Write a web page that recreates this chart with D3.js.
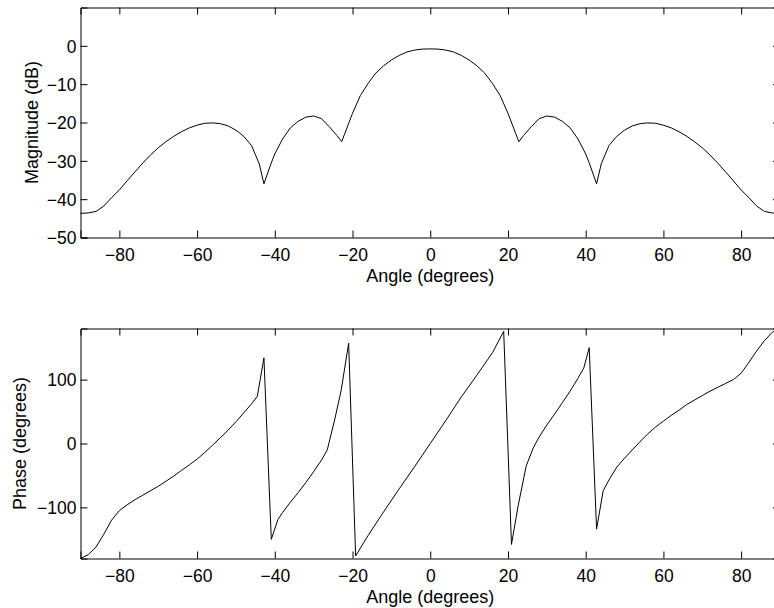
<!DOCTYPE html>
<html>
<head>
<meta charset="utf-8">
<script src="https://cdn.jsdelivr.net/npm/d3@7"></script>
<style>
  html, body { margin: 0; padding: 0; background: #fff; }
  svg { display: block; }
  text { font-family: "Liberation Sans", Arial, Helvetica, sans-serif; fill: #000; }
</style>
</head>
<body>
<svg id="chart" width="774" height="608"></svg>
<script>
// ---- Data ----
const magAngle = [-90,-88,-86,-84,-82,-80,-78,-76,-74,-72,-70,-68,-66,-64,-62,-60,-58,-56,-54,-52,-50,-48,-46,-44,-42.8,-41,-40,-38,-36,-34,-32,-30,-28,-26,-24,-22.8,-22,-20,-18,-16,-14,-12,-10,-8,-6,-4,-2,0,
  2,4,6,8,10,12,14,16,18,20,22,22.8,24,26,28,30,32,34,36,38,40,41,42.8,44,46,48,50,52,54,56,58,60,62,64,66,68,70,72,74,76,78,80,82,84,86,88,90];
const magDb = [-43.7,-43.6,-43.2,-41.8,-39.6,-37.6,-35.2,-32.9,-30.6,-28.5,-26.6,-25.0,-23.6,-22.4,-21.4,-20.7,-20.2,-20.1,-20.3,-20.9,-22.0,-23.6,-26.0,-30.8,-36.0,-30.8,-28.2,-24.3,-21.4,-19.7,-18.6,-18.3,-19.0,-21.1,-23.4,-25.0,-22.9,-17.6,-13.0,-9.8,-7.1,-5.2,-3.7,-2.5,-1.6,-1.1,-0.85,-0.8,
  -0.85,-1.1,-1.6,-2.5,-3.7,-5.2,-7.1,-9.8,-13.0,-17.6,-22.9,-25.0,-23.4,-21.1,-19.0,-18.3,-18.6,-19.7,-21.4,-24.3,-28.2,-30.8,-36.0,-30.8,-26.0,-23.6,-22.0,-20.9,-20.3,-20.1,-20.2,-20.7,-21.4,-22.4,-23.6,-25.0,-26.6,-28.5,-30.6,-32.9,-35.2,-37.6,-39.6,-41.8,-43.2,-43.6,-43.7];

const phaseAngle = [-90,-88,-86,-84,-82,-80,-78,-76,-74,-72,-70,-68,-66,-64,-62,-60,-58,-56,-54,-52,-50,-48,-46,-44.5,-42.8,-40.9,-39.2,-38,-36,-34,-32,-30,-28,-26.5,-24.6,-22.9,-21,-19.2,-16,-12,-8,-4,0,
  4,8,12,16,18.9,20.9,22.6,24.7,26.5,28,30,32,34,36,38,39.5,40.9,42.8,44.5,46,48,50,52,54,56,58,60,62,64,66,68,70,72,74,76,78,80,82,84,86,88,90];
const phaseDeg = [-180,-174,-162,-142,-120,-105,-96,-88,-81,-74,-67,-59,-51,-42,-33.5,-24.5,-14,-2.5,9,21,34,48,62,74,134,-150,-119,-108,-92,-77,-61,-44,-26,-10,37,84,157,-176,-144,-107,-71,-36,0,
  36,73,107,142,175.5,-158,-98,-35,-7,10,29,46,64,82,102,118,150,-134,-74,-57,-37,-23,-10,3,15,26,35,44,52,61,68,75,82,88,94,100,110,127,145,161,174,180];

const xTicks = [-80,-60,-40,-20,0,20,40,60,80];
const magTicks = [-50,-40,-30,-20,-10,0];
const phaseTicks = [-100,0,100];

// ---- Layout ----
const svg = d3.select("#chart");
const left = 80.5, right = 780;
const fontSize = 17.5;
const tickLen = 7;

const x = d3.scaleLinear().domain([-90, 90]).range([left, right]);

function panel(top, bottom, yDomain, yTicks, xs, ys, yLabel, yLabelX) {
  const y = d3.scaleLinear().domain(yDomain).range([bottom, top]);
  const g = svg.append("g");

  // curve
  const line = d3.line().x(d => x(d[0])).y(d => y(d[1]));
  g.append("path")
    .datum(xs.map((a, i) => [a, ys[i]]))
    .attr("d", line)
    .attr("fill", "none")
    .attr("stroke", "#000")
    .attr("stroke-width", 1);

  // axes (ticks inward on all sides)
  const fmt = d => (d < 0 ? "\u2212" + Math.abs(d) : String(d));
  const axB = d3.axisBottom(x).tickValues(xTicks).tickSize(-tickLen).tickPadding(11).tickFormat(fmt);
  const axT = d3.axisTop(x).tickValues(xTicks).tickSize(-tickLen).tickFormat("");
  const axL = d3.axisLeft(y).tickValues(yTicks).tickSize(-tickLen).tickPadding(11).tickFormat(fmt);
  const axR = d3.axisRight(y).tickValues(yTicks).tickSize(-tickLen).tickFormat("");

  const gb = g.append("g").attr("transform", `translate(0,${bottom})`).call(axB);
  const gt = g.append("g").attr("transform", `translate(0,${top})`).call(axT);
  const gl = g.append("g").attr("transform", `translate(${left},0)`).call(axL);
  const gr = g.append("g").attr("transform", `translate(${right},0)`).call(axR);
  [gb, gt, gl, gr].forEach(a => {
    a.select(".domain").attr("stroke", "#000").attr("stroke-width", 1);
    a.selectAll(".tick line").attr("stroke", "#000").attr("stroke-width", 1);
    a.selectAll(".tick text").attr("font-size", fontSize).attr("font-family", "Liberation Sans, Arial, sans-serif").attr("fill", "#000");
  });
  gb.attr("font-size", null).attr("font-family", null);
  gl.attr("font-size", null).attr("font-family", null);
  gl.selectAll(".tick text").attr("dy", "0.36em").attr("x", -4);

  // x label
  g.append("text")
    .attr("x", x(0))
    .attr("y", bottom + 44.5)
    .attr("text-anchor", "middle")
    .attr("font-size", 18)
    .text("Angle (degrees)");

  // y label
  g.append("text")
    .attr("transform", `translate(${yLabelX},${(top + bottom) / 2}) rotate(-90)`)
    .attr("text-anchor", "middle")
    .attr("font-size", 18)
    .text(yLabel);
}

panel(7.5, 237.5, [-50, 10], magTicks, magAngle, magDb, "Magnitude (dB)", 38);
panel(328.5, 558.5, [-180, 180], phaseTicks, phaseAngle, phaseDeg, "Phase (degrees)", 26);
</script>
</body>
</html>
